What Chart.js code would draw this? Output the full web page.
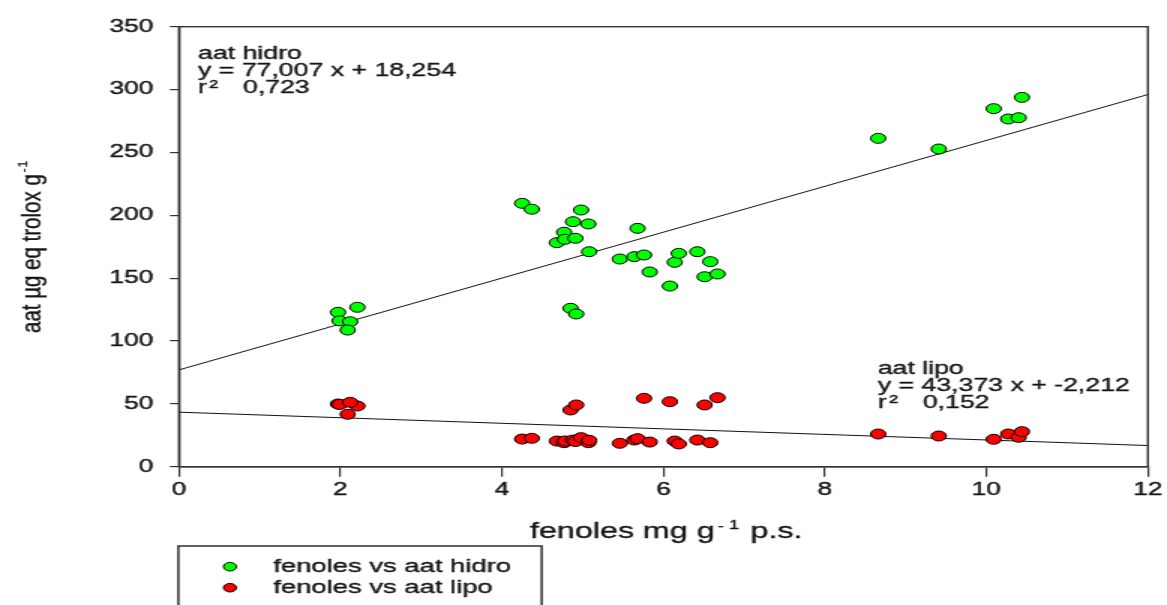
<!DOCTYPE html>
<html>
<head>
<meta charset="utf-8">
<script src="https://cdn.jsdelivr.net/npm/chart.js@4.4.1/dist/chart.umd.min.js"></script>
<style>
  html, body { margin: 0; padding: 0; background: #fff; overflow: hidden; }
  /* the plot is drawn narrow and widened 1.5x, like the original export */
  #wrap { position: absolute; left: 0; top: 0; width: 778px; height: 605px; transform: scaleX(1.5); transform-origin: 0 0; }
</style>
</head>
<body>
<div id="wrap"><canvas id="chart" width="778" height="605"></canvas></div>
<script>
// ====================== DATA ======================
// fenoles (mg g-1 p.s.) per sample
const fenoles = [1.97, 2.21, 1.99, 2.12, 2.09, 4.25, 4.37, 4.68, 4.77, 4.78, 4.85, 4.92, 4.88, 4.91, 4.98, 5.07, 5.08,
                 5.46, 5.64, 5.68, 5.76, 5.83, 6.08, 6.14, 6.19, 6.42, 6.51, 6.58, 6.67, 8.66, 9.41, 10.09, 10.27, 10.40, 10.44];
// aat hidro (ug eq trolox g-1)
const aatHidro = [122.8, 126.8, 116.0, 115.3, 108.7, 209.5, 204.8, 178.2, 186.5, 180.9, 126.0, 121.5, 194.9, 181.7, 204.2, 193.1, 171.0,
                  165.2, 167.1, 189.6, 168.4, 154.9, 143.7, 162.6, 169.7, 171.0, 151.1, 163.1, 153.3, 261.2, 252.7, 284.8, 276.6, 277.6, 293.8];
// aat lipo (ug eq trolox g-1)
const aatLipo = [49.9, 48.3, 49.5, 51.2, 41.7, 22.0, 22.6, 20.4, 19.1, 20.5, 45.1, 49.1, 21.2, 20.0, 23.1, 19.1, 21.0,
                 18.6, 21.2, 22.3, 54.4, 19.6, 51.7, 20.4, 18.1, 21.2, 49.1, 19.1, 54.9, 26.0, 24.4, 21.8, 26.0, 23.4, 27.9];

// regression coefficients as printed by the fit: [first, second]
// (the line itself is drawn as first + second * x)
const hidroFit = [77.007, 18.254];
const lipoFit = [43.373, -2.212];
const hidroText = ["aat hidro", "y = 77,007 x + 18,254", "0,723"];
const lipoText = ["aat lipo", "y = 43,373 x + -2,212", "0,152"];

const xTicks = { min: 0, max: 12, step: 2 };
const yTicks = { min: 0, max: 350, step: 50 };

const FONT = "'Liberation Sans', Arial, sans-serif";
const INK = "#161616";

function points(xs, ys) {
  return xs.map((x, i) => ({ x: x, y: ys[i] }));
}

function fitLine(c) {
  return [xTicks.min, xTicks.max].map(x => ({ x: x, y: c[0] + c[1] * x }));
}

// filled text with a hairline stroke, the export looks a bit heavy
function heavyText(ctx, s, x, y) {
  ctx.fillText(s, x, y);
  ctx.strokeText(s, x, y);
}

// ====================== EXTRA DRAWING ======================
function drawFitLabel(ctx, x, y, lines) {
  ctx.font = "17.8px " + FONT;
  ctx.fillStyle = INK;
  ctx.strokeStyle = INK;
  ctx.lineWidth = 0.35;
  ctx.textAlign = "left";
  ctx.textBaseline = "alphabetic";
  heavyText(ctx, lines[0], x, y);
  heavyText(ctx, lines[1], x, y + 17);
  heavyText(ctx, "r", x, y + 34);
  heavyText(ctx, "\u00b2", x + 7.5, y + 34);
  heavyText(ctx, lines[2], x + 30, y + 34);
}

const decor = {
  id: "decor",
  afterDraw(chart) {
    const ctx = chart.ctx;
    const a = chart.chartArea;
    const xs = chart.scales.x;
    ctx.save();

    // box around the plot
    ctx.strokeStyle = "#333";
    ctx.lineWidth = 1.4;
    ctx.strokeRect(a.left, a.top, a.right - a.left, a.bottom - a.top);

    // fit labels
    drawFitLabel(ctx, a.left + 12.7, 58.5, hidroText);
    drawFitLabel(ctx, xs.getPixelForValue(8.66) - 0.3, 373.5, lipoText);

    // x title with superscript
    ctx.fillStyle = INK;
    ctx.strokeStyle = INK;
    ctx.lineWidth = 0.35;
    ctx.textBaseline = "alphabetic";
    ctx.textAlign = "left";
    let tx = 353.3;
    ctx.font = "21.5px " + FONT;
    heavyText(ctx, "fenoles mg g", tx, 538);
    tx += ctx.measureText("fenoles mg g").width + 2;
    ctx.font = "12px " + FONT;
    heavyText(ctx, "-", tx, 530);
    heavyText(ctx, "1", tx + 7.5, 528.5);
    tx += 16;
    ctx.font = "21.5px " + FONT;
    heavyText(ctx, " p.s.", tx, 538);

    // y title, rotated
    ctx.save();
    ctx.translate(27, 333);
    ctx.rotate(-Math.PI / 2);
    ctx.scale(1, 0.86);
    ctx.font = "20.5px " + FONT;
    heavyText(ctx, "aat \u00b5g eq trolox g", 0, 0);
    const w = ctx.measureText("aat \u00b5g eq trolox g").width;
    ctx.font = "11.5px " + FONT;
    heavyText(ctx, "-", w + 2, -9);
    heavyText(ctx, "1", w + 7, -10);
    ctx.restore();

    // legend box
    ctx.strokeStyle = "#222";
    ctx.lineWidth = 1.4;
    ctx.strokeRect(a.left - 0.4, 546, 242.2, 80);
    const sets = chart.data.datasets.slice(0, 2);
    sets.forEach((ds, i) => {
      const cy = 566.7 + i * 21;
      ctx.beginPath();
      ctx.arc(153.3, cy, 4.3, 0, Math.PI * 2);
      ctx.fillStyle = ds.backgroundColor;
      ctx.fill();
      ctx.lineWidth = 1;
      ctx.strokeStyle = "#000";
      ctx.stroke();
      ctx.fillStyle = INK;
      ctx.strokeStyle = INK;
      ctx.lineWidth = 0.35;
      ctx.font = "18.3px " + FONT;
      heavyText(ctx, ds.label, 182.2, cy + 5.3);
    });

    ctx.restore();
  }
};

// ====================== CHART ======================
const tickFont = { family: FONT, size: 17.5 };

const chart = new Chart(document.getElementById("chart"), {
  type: "scatter",
  data: {
    datasets: [
      {
        label: "fenoles vs aat hidro",
        data: points(fenoles, aatHidro),
        backgroundColor: "#00ff00",
        borderColor: "#000",
        borderWidth: 1,
        pointRadius: 5
      },
      {
        label: "fenoles vs aat lipo",
        data: points(fenoles, aatLipo),
        backgroundColor: "#ff0000",
        borderColor: "#000",
        borderWidth: 1,
        pointRadius: 5
      },
      {
        label: "ajuste hidro",
        data: fitLine(hidroFit),
        showLine: true,
        pointRadius: 0,
        borderColor: "#111",
        borderWidth: 1
      },
      {
        label: "ajuste lipo",
        data: fitLine(lipoFit),
        showLine: true,
        pointRadius: 0,
        borderColor: "#111",
        borderWidth: 1
      }
    ]
  },
  options: {
    responsive: false,
    animation: false,
    layout: { padding: { top: 26.7, right: 10.7, bottom: 0, left: 0 } },
    plugins: {
      legend: { display: false },
      tooltip: { enabled: false }
    },
    scales: {
      x: {
        type: "linear",
        min: xTicks.min,
        max: xTicks.max,
        ticks: { stepSize: xTicks.step, color: INK, font: tickFont, padding: 3, maxRotation: 0,
                 textStrokeColor: INK, textStrokeWidth: 0.4 },
        grid: { drawOnChartArea: false, tickLength: 10, color: "#333", lineWidth: 1.2 },
        border: { color: "#333", width: 1.4 },
        afterFit: s => { s.height = 138.3; }
      },
      y: {
        min: yTicks.min,
        max: yTicks.max,
        ticks: { stepSize: yTicks.step, color: INK, font: tickFont, padding: 11,
                 textStrokeColor: INK, textStrokeWidth: 0.4 },
        grid: { drawOnChartArea: false, tickLength: 6, color: "#333", lineWidth: 1.2 },
        border: { color: "#333", width: 1.4 },
        afterFit: s => { s.width = 119.3; }
      }
    }
  },
  plugins: [decor]
});
</script>
</body>
</html>
